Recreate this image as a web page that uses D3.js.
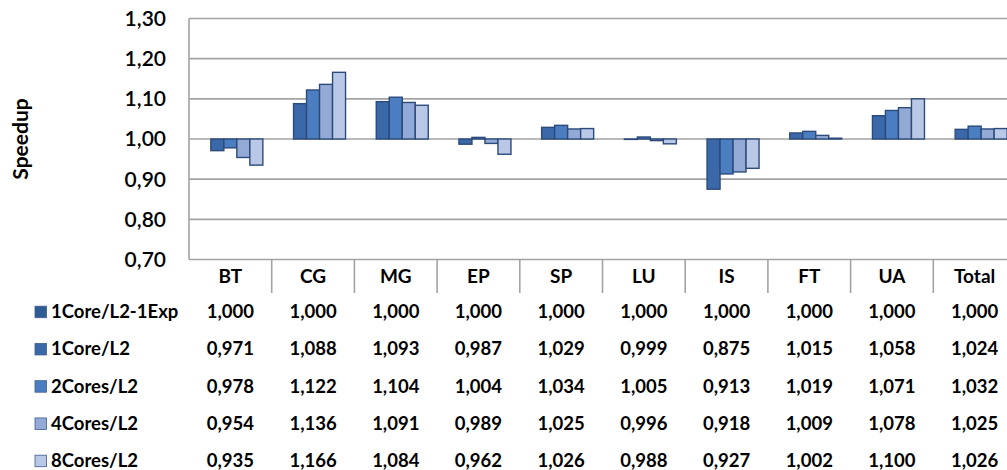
<!DOCTYPE html>
<html><head><meta charset="utf-8">
<script src="https://cdn.jsdelivr.net/npm/d3@7"></script>
<style>html,body{margin:0;padding:0;background:#fff;overflow:hidden}svg{display:block}text{font-family:Lato,"Open Sans",sans-serif;fill:#000}</style>
</head><body><svg id="c" width="1007" height="470"></svg>
<script>
const categories = ["BT","CG","MG","EP","SP","LU","IS","FT","UA","Total"];
const seriesNames = ["1Core/L2-1Exp","1Core/L2","2Cores/L2","4Cores/L2","8Cores/L2"];
const s1CoreExp = [1.000,1.000,1.000,1.000,1.000,1.000,1.000,1.000,1.000,1.000];
const s1Core    = [0.971,1.088,1.093,0.987,1.029,0.999,0.875,1.015,1.058,1.024];
const s2Cores   = [0.978,1.122,1.104,1.004,1.034,1.005,0.913,1.019,1.071,1.032];
const s4Cores   = [0.954,1.136,1.091,0.989,1.025,0.996,0.918,1.009,1.078,1.025];
const s8Cores   = [0.935,1.166,1.084,0.962,1.026,0.988,0.927,1.002,1.100,1.026];
const yTicks = [0.70,0.80,0.90,1.00,1.10,1.20,1.30];
const seriesValues = [s1CoreExp,s1Core,s2Cores,s4Cores,s8Cores];
const colors = ["#2f5b94","#3a68a8","#4b7ec1","#94aad6","#b9c8e6"];

const loc = d3.formatLocale({decimal:",",thousands:".",grouping:[3],currency:["",""]});
const f3 = loc.format(".3f"), f2 = loc.format(".2f");

const svg = d3.select("#c");
const L = 189, T = 18.5, B = 259.5, step = 82.7;
const R = L + step*categories.length;
const x0 = d3.scaleBand().domain(categories).range([L,R]).paddingInner(0.214).paddingOuter(0.107);
const x1 = d3.scaleBand().domain(d3.range(5)).range([0,x0.bandwidth()]);
const y = d3.scaleLinear().domain([0.7,1.3]).range([B,T]);
const cx = c => L + step*(categories.indexOf(c)+0.5);

// gridlines
const grid = svg.append("g");
grid.selectAll("line").data(yTicks).join("line")
  .attr("x1",L).attr("x2",R).attr("y1",d=>y(d)).attr("y2",d=>y(d))
  .attr("stroke","#a3a3a3").attr("stroke-width",1.6);
// left axis line
svg.append("line").attr("x1",L).attr("x2",L).attr("y1",T).attr("y2",B).attr("stroke","#a3a3a3").attr("stroke-width",1.6);
// category dividers
svg.append("g").selectAll("line").data(d3.range(1,categories.length+1)).join("line")
  .attr("x1",i=>L+step*i).attr("x2",i=>L+step*i).attr("y1",B).attr("y2",293)
  .attr("stroke","#a3a3a3").attr("stroke-width",1.6);

// y tick labels
svg.append("g").selectAll("text").data(yTicks).join("text")
  .attr("x",166).attr("y",d=>y(d)).attr("dy","0.35em").attr("text-anchor","end")
  .style("font-size","21px").style("font-weight","600").text(d=>f2(d));

// axis title
svg.append("text").attr("transform","translate(27.5,139) rotate(-90)").attr("text-anchor","middle")
  .style("font-size","21px").style("font-weight","bold").text("Speedup");

// bars
const gBars = svg.append("g");
seriesValues.forEach((vals,si)=>{
  gBars.append("g").selectAll("rect").data(vals.map((v,i)=>({c:categories[i],v})))
    .join("rect")
    .attr("x",d=>x0(d.c)+x1(si)).attr("width",x1.bandwidth())
    .attr("y",d=>Math.min(y(d.v),y(1))).attr("height",d=>Math.abs(y(d.v)-y(1)))
    .attr("fill",colors[si]).attr("stroke","#2c4a7a").attr("stroke-width",1.4);
});

// category labels
svg.append("g").selectAll("text").data(categories).join("text")
  .attr("x",d=>cx(d)).attr("y",276.5).attr("dy","0.35em").attr("text-anchor","middle")
  .style("font-size","19px").style("font-weight","bold").text(d=>d);

// data table
const rowY = i => 311.7 + i*37.25;
seriesNames.forEach((name,si)=>{
  const g = svg.append("g");
  g.append("rect").attr("x",35).attr("y",rowY(si)-5.5).attr("width",11.5).attr("height",11.5)
    .attr("fill",colors[si]).attr("stroke","#3d5c8c").attr("stroke-width",0.8);
  g.append("text").attr("x",51).attr("y",rowY(si)).attr("dy","0.35em")
    .style("font-size","18.5px").style("font-weight","bold").text(name);
  g.selectAll("text.v").data(seriesValues[si].map((v,i)=>({c:categories[i],v}))).join("text")
    .attr("class","v").attr("x",d=>cx(d.c)).attr("y",rowY(si)).attr("dy","0.35em").attr("text-anchor","middle")
    .style("font-size","18.5px").style("font-weight","bold").text(d=>f3(d.v));
});
</script></body></html>
